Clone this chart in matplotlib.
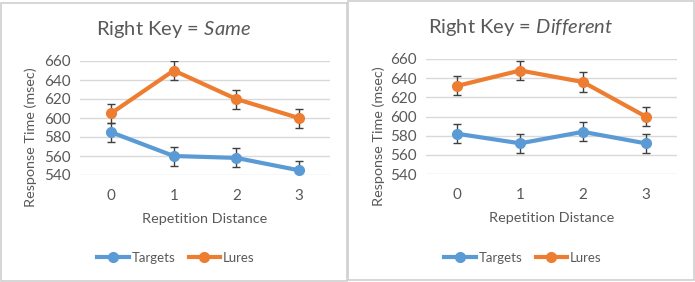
import matplotlib
matplotlib.use("Agg")
import matplotlib.pyplot as plt
from matplotlib.patches import Rectangle
from matplotlib.lines import Line2D

categories = ["0", "1", "2", "3"]
same_targets = [585, 560, 558, 545]
same_lures = [605, 650, 620, 600]
diff_targets = [582, 572, 584, 572]
diff_lures = [632, 648, 636, 600]
err = [10, 10, 10, 10]
yticks = [540, 560, 580, 600, 620, 640, 660]

BLUE = "#5B9BD5"
ORANGE = "#ED7D31"
TXT = "#595959"
GRID = "#D9D9D9"

plt.rcParams['font.family'] = ['Lato', 'DejaVu Sans']
plt.rcParams['mathtext.fontset'] = 'custom'
plt.rcParams['mathtext.rm'] = 'Lato'
plt.rcParams['mathtext.it'] = 'Lato:italic'

W, H = 695, 282
fig = plt.figure(figsize=(W / 100, H / 100), dpi=100)

def px(x0, y0, x1, y1):
    return [x0 / W, 1 - y1 / H, (x1 - x0) / W, (y1 - y0) / H]

# panel borders
for (x0, y0, x1, y1) in [(1, 3, 347, 281), (348, 1, 694, 280)]:
    fig.patches.append(Rectangle((x0 / W, 1 - y1 / H), (x1 - x0) / W, (y1 - y0) / H,
                                 transform=fig.transFigure, fill=False,
                                 edgecolor="#D0D0D0", linewidth=1.2))

panels = [
    (px(80, 61, 330, 175), same_targets, same_lures, "Same", (174, 30), (176, 258), (-0.196, 0.333)),
    (px(426, 59, 677, 174), diff_targets, diff_lures, "Different", (521, 27), (523, 258), (-0.187, 0.33)),
]

xs = list(range(len(categories)))
for rect, t, l, word, (tx, ty), (lx, ly), ylc in panels:
    ax = fig.add_axes(rect)
    ax.set_xlim(-0.5, len(categories) - 0.5)
    ax.set_ylim(540, 660)
    ax.set_yticks(yticks)
    ax.set_xticks(xs)
    ax.set_xticklabels(categories)
    ax.grid(axis="y", color=GRID, linewidth=1)
    ax.set_axisbelow(True)
    for s in ax.spines.values():
        s.set_visible(False)
    ax.tick_params(length=0, colors=TXT, labelsize=11, pad=7)
    ax.tick_params(axis="x", pad=10)
    ax.errorbar(xs, t, yerr=err, color=BLUE, linewidth=3, marker="o", markersize=7,
                ecolor="#404040", elinewidth=1, capsize=3, capthick=1, zorder=3)
    ax.errorbar(xs, l, yerr=err, color=ORANGE, linewidth=3, marker="o", markersize=7,
                ecolor="#404040", elinewidth=1, capsize=3, capthick=1, zorder=3)
    ax.set_xlabel("Repetition Distance", color=TXT, fontsize=10.4, labelpad=7)
    ax.set_ylabel("Response Time (msec)", color=TXT, fontsize=10.4, va="center")
    ax.yaxis.set_label_coords(*ylc)
    fig.text(tx / W, 1 - ty / H, "Right Key = $\\mathit{" + word + "}$", ha="center", va="center",
             color=TXT, fontsize=14.5)
    handles = [Line2D([], [], color=BLUE, linewidth=3, marker="o", markersize=7),
               Line2D([], [], color=ORANGE, linewidth=3, marker="o", markersize=7)]
    ax.legend(handles, ["Targets", "Lures"], loc="center",
              bbox_to_anchor=(lx / W, 1 - ly / H), bbox_transform=fig.transFigure,
              ncol=2, frameon=False, fontsize=9.5, handlelength=2.4, columnspacing=1.0,
              handletextpad=0.2, labelcolor=TXT, borderpad=0, borderaxespad=0)

fig.savefig("out.png", dpi=100)
